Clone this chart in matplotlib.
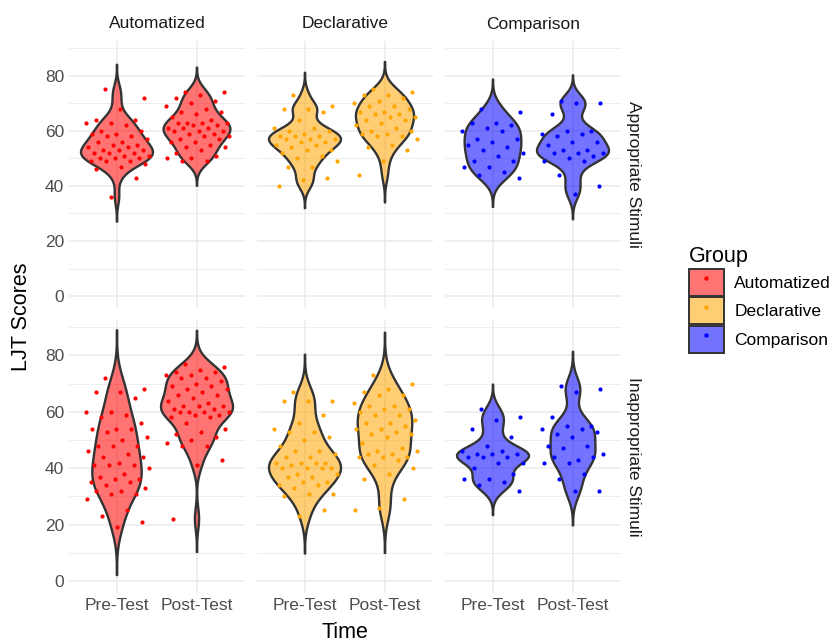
import numpy as np
import matplotlib
matplotlib.use("Agg")
import matplotlib.pyplot as plt
from matplotlib.colors import to_rgba
from matplotlib.lines import Line2D
from matplotlib.patches import Patch

plt.rcParams["font.family"] = ["Liberation Sans", "DejaVu Sans"]

groups = ["Automatized", "Declarative", "Comparison"]
stimuli = ["Appropriate Stimuli", "Inappropriate Stimuli"]
times = ["Pre-Test", "Post-Test"]
group_colors = ["#FF0000", "#FFA500", "#0000FF"]

# LJT scores
auto_appr_pre = [75, 72, 68, 64, 64, 63, 63, 62, 60, 60, 59, 59, 58, 58, 57, 56, 56, 55, 55, 54,
                 54, 53, 53, 53, 52, 52, 52, 51, 51, 50, 50, 50, 49, 49, 49, 48, 47, 46, 43, 36]
auto_appr_post = [74, 74, 73, 72, 71, 70, 69, 68, 67, 67, 66, 65, 64, 63, 63, 63, 63, 62, 62, 61,
                  61, 61, 60, 60, 60, 59, 59, 58, 58, 57, 57, 56, 56, 55, 54, 54, 53, 52, 51, 50,
                  50, 49, 49]
decl_appr_pre = [73, 69, 68, 68, 67, 64, 61, 61, 60, 60, 59, 58, 58, 58, 57, 57, 57, 56, 56, 55,
                 55, 54, 53, 53, 52, 51, 50, 49, 47, 47, 43, 42, 40]
decl_appr_post = [75, 74, 73, 73, 72, 71, 70, 69, 69, 68, 67, 67, 66, 66, 65, 65, 64, 64, 63, 62,
                  61, 60, 60, 59, 59, 58, 58, 57, 55, 54, 53, 49, 44]
comp_appr_pre = [68, 67, 63, 63, 62, 61, 60, 60, 57, 57, 56, 55, 54, 53, 52, 51, 49, 49, 47, 47,
                 45, 44, 43]
comp_appr_post = [71, 70, 70, 66, 60, 60, 59, 59, 58, 56, 56, 55, 53, 53, 52, 52, 52, 51, 50, 49,
                  49, 44, 40, 37]
auto_inap_pre = [72, 68, 67, 67, 65, 60, 60, 59, 58, 56, 54, 54, 54, 53, 51, 50, 48, 48, 48, 46,
                 45, 44, 44, 42, 41, 41, 41, 40, 38, 37, 36, 36, 35, 35, 34, 33, 32, 32, 31, 31,
                 29, 25, 23, 21, 19]
auto_inap_post = [77, 76, 75, 74, 74, 73, 73, 72, 72, 71, 70, 69, 69, 68, 68, 67, 66, 66, 65, 64,
                  63, 62, 62, 62, 61, 61, 60, 60, 60, 60, 59, 59, 58, 58, 56, 54, 53, 52, 51, 50,
                  49, 48, 48, 43, 41, 22]
decl_inap_pre = [67, 64, 64, 64, 59, 56, 54, 53, 53, 51, 50, 48, 46, 46, 45, 44, 44, 42, 42, 42,
                 42, 41, 40, 40, 40, 40, 38, 38, 37, 37, 35, 35, 34, 34, 33, 31, 31, 30, 25, 23]
decl_inap_post = [73, 70, 68, 67, 66, 66, 63, 62, 62, 61, 61, 60, 59, 59, 57, 56, 56, 55, 54, 54,
                  53, 52, 52, 51, 49, 47, 46, 46, 45, 45, 44, 44, 44, 43, 41, 40, 38, 36, 29, 26,
                  25]
comp_inap_pre = [61, 58, 57, 54, 51, 48, 46, 46, 45, 45, 45, 44, 44, 44, 42, 42, 40, 38, 36, 36,
                 35, 34, 32]
comp_inap_post = [69, 68, 67, 58, 55, 55, 54, 54, 52, 53, 51, 48, 48, 47, 45, 43, 44, 44, 42, 42,
                  38, 36, 32, 32]

scores = {
    ("Appropriate Stimuli", "Automatized"): [auto_appr_pre, auto_appr_post],
    ("Appropriate Stimuli", "Declarative"): [decl_appr_pre, decl_appr_post],
    ("Appropriate Stimuli", "Comparison"): [comp_appr_pre, comp_appr_post],
    ("Inappropriate Stimuli", "Automatized"): [auto_inap_pre, auto_inap_post],
    ("Inappropriate Stimuli", "Declarative"): [decl_inap_pre, decl_inap_post],
    ("Inappropriate Stimuli", "Comparison"): [comp_inap_pre, comp_inap_post],
}


def kde(values):
    """Gaussian KDE like R's density() with bw.nrd0, extended 3 bandwidths."""
    v = np.asarray(values, float)
    iqr = np.subtract(*np.percentile(v, [75, 25]))
    bw = 0.9 * min(v.std(ddof=1), iqr / 1.34) * len(v) ** -0.2
    grid = np.linspace(v.min() - 3 * bw, v.max() + 3 * bw, 512)
    dens = np.exp(-0.5 * ((grid[:, None] - v) / bw) ** 2).sum(1) / (len(v) * bw * np.sqrt(2 * np.pi))
    return grid, dens


W, H = 832, 643
fig = plt.figure(figsize=(W / 100, H / 100), dpi=100)

col_left = [69, 257, 445]
col_w = 176
row_box = [(41, 308), (320, 593)]  # top/bottom pixel edges
ylim = (-4.3, 92.6)
grid_c = "#EBEBEB"
tick_c = "#4D4D4D"

for r, stim in enumerate(stimuli):
    top, bot = row_box[r]
    for c, grp in enumerate(groups):
        ax = fig.add_axes([col_left[c] / W, 1 - bot / H, col_w / W, (bot - top) / H])
        ax.set_xlim(0.4, 2.6)
        ax.set_ylim(*ylim)
        for s in ax.spines.values():
            s.set_visible(False)
        ax.set_yticks([0, 20, 40, 60, 80])
        ax.set_yticks([10, 30, 50, 70, 90], minor=True)
        ax.set_xticks([1, 2])
        ax.grid(True, which="major", color=grid_c, lw=1.1)
        ax.grid(True, which="minor", axis="y", color=grid_c, lw=0.6)
        ax.set_axisbelow(True)
        ax.tick_params(which="both", length=0, labelsize=12.5, labelcolor=tick_c)
        ax.set_xticklabels(times if r == 1 else [])
        if c != 0:
            ax.set_yticklabels([])

        # violins: area-scaled within the panel, max half-width 0.45
        dens_list = [kde(v) for v in scores[stim, grp]]
        dmax = max(d.max() for _, d in dens_list)
        color = group_colors[c]
        for i, (g, d) in enumerate(dens_list):
            pos = i + 1
            w = 0.45 * d / dmax
            ax.fill(np.r_[pos - w, (pos + w)[::-1]], np.r_[g, g[::-1]],
                    facecolor=to_rgba(color, 0.55), edgecolor="#333333", lw=1.7, zorder=2)
            vals = np.asarray(scores[stim, grp][i], float)
            k = np.arange(len(vals))
            jit = 0.8 * (((k * 0.6180339887) + 0.31) % 1 - 0.5)
            ax.scatter(pos + jit, vals, s=9, color=color, lw=0, zorder=3)

        if r == 0:
            ax.set_title(grp, fontsize=12.5, color="#1A1A1A", pad=9)
        if c == 2:
            ax.text(1.03, 0.5, stim, transform=ax.transAxes, rotation=270,
                    ha="left", va="center", fontsize=12.5, color="#1A1A1A")

fig.text(22 / W, 1 - 317 / H, "LJT Scores", rotation=90, ha="center", va="center", fontsize=15.5)
fig.text(345 / W, 1 - 632 / H, "Time", ha="center", va="center", fontsize=15.5)

handles = [(Patch(facecolor=to_rgba(c, 0.55), edgecolor="#333333", lw=1.4),
            Line2D([], [], marker="o", ls="", color=c, ms=2.2)) for c in group_colors]
fig.legend(handles, groups, loc="upper left", bbox_to_anchor=(689 / W, 1 - 246 / H),
           frameon=False, title="Group", title_fontsize=15.5, fontsize=12.5,
           handlelength=2.0, handleheight=2.0, labelspacing=0.1, handletextpad=0.6,
           borderpad=0, borderaxespad=0, alignment="left")

fig.savefig("out.png", dpi=100)
